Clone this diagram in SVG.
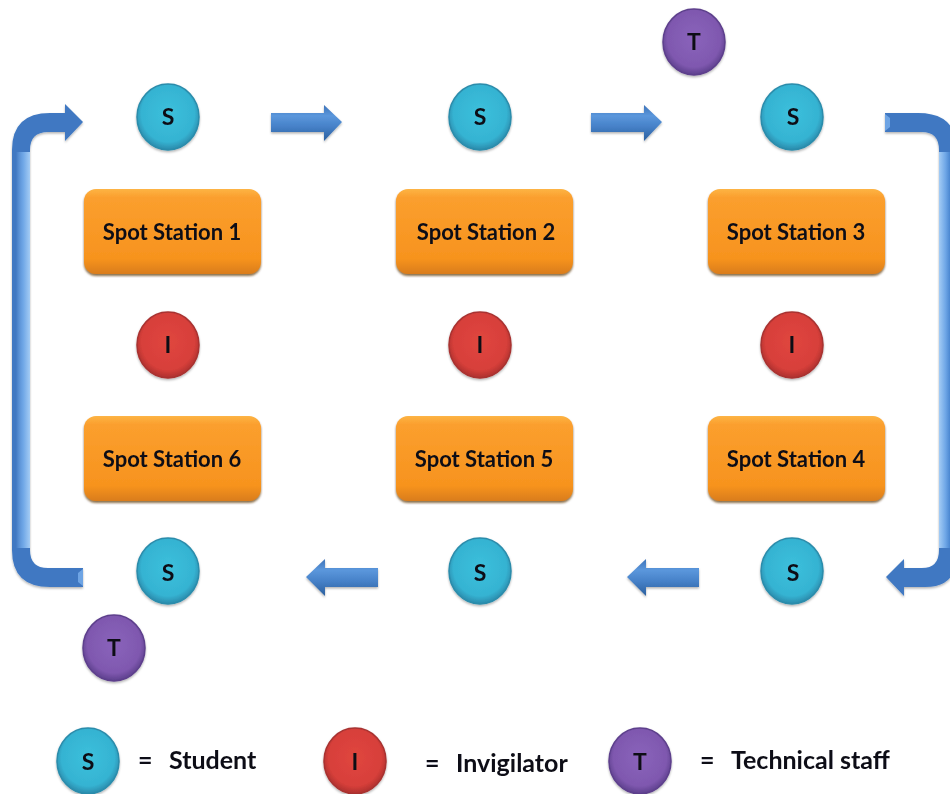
<svg xmlns="http://www.w3.org/2000/svg" width="950" height="794" viewBox="0 0 950 794">
<style>
text{font-family:"Lato","Open Sans","Liberation Sans",sans-serif;font-weight:700;fill:#101018;text-anchor:middle;filter:url(#soft)}
.lbl{font-size:22px}
.let{font-size:23px}
.leg{font-size:25px;text-anchor:start}
.s{fill:url(#gs);stroke:#2b8cab;stroke-width:1.5;filter:url(#sh)}
.i{fill:url(#gi);stroke:#a83230;stroke-width:1.5;filter:url(#sh)}
.t{fill:url(#gt);stroke:#5d3f8c;stroke-width:1.5;filter:url(#sh)}
.box{fill:url(#go);filter:url(#sh2)}
.ar{fill:url(#gh);filter:url(#sh)}
.bent{fill:#3f78c2;filter:url(#sh)}
.hi{fill:url(#gv)}
.hi2{fill:url(#gv2)}
.end{fill:#6ea4e4}
</style>
<defs>
<radialGradient id="gs" cx="50%" cy="45%" r="55%"><stop offset="0" stop-color="#3cc0dc"/><stop offset=".78" stop-color="#35b3d2"/><stop offset="1" stop-color="#2a89aa"/></radialGradient>
<radialGradient id="gi" cx="50%" cy="45%" r="55%"><stop offset="0" stop-color="#e0463f"/><stop offset=".78" stop-color="#d73f3a"/><stop offset="1" stop-color="#ac302e"/></radialGradient>
<radialGradient id="gt" cx="50%" cy="45%" r="55%"><stop offset="0" stop-color="#8a63bb"/><stop offset=".78" stop-color="#7f58af"/><stop offset="1" stop-color="#5c3f8c"/></radialGradient>
<linearGradient id="go" x1="0" y1="0" x2="0" y2="1"><stop offset="0" stop-color="#fdb445"/><stop offset=".1" stop-color="#fb9f2e"/><stop offset=".82" stop-color="#f7931e"/><stop offset="1" stop-color="#d97c1a"/></linearGradient>
<linearGradient id="gh" x1="0" y1="0" x2="0" y2="1"><stop offset="0" stop-color="#3c72b8"/><stop offset=".3" stop-color="#5b97dc"/><stop offset=".6" stop-color="#4681c8"/><stop offset="1" stop-color="#2b5f9e"/></linearGradient>
<linearGradient id="gv" x1="0" y1="0" x2="1" y2="0"><stop offset="0" stop-color="#7fb4ee" stop-opacity="0"/><stop offset=".5" stop-color="#6ea6e6"/><stop offset="1" stop-color="#a4ccf5"/></linearGradient>
<linearGradient id="gv2" x1="0" y1="0" x2="1" y2="0"><stop offset="0" stop-color="#a4ccf5"/><stop offset=".6" stop-color="#6ea6e6"/><stop offset="1" stop-color="#4a86d0"/></linearGradient>
<filter id="sh" x="-20%" y="-20%" width="140%" height="140%"><feDropShadow dx="0" dy="1.5" stdDeviation="1.2" flood-color="#000" flood-opacity=".3"/></filter>
<filter id="sh2" x="-10%" y="-10%" width="120%" height="125%"><feDropShadow dx="0" dy="2" stdDeviation="1.2" flood-color="#5a3000" flood-opacity=".7"/></filter>
<filter id="soft" x="-5%" y="-10%" width="110%" height="120%"><feGaussianBlur stdDeviation="0.35"/></filter>
</defs>

<g id="connectors">
<path id="arrow-1" class="ar" d="M271 113H324V105L342 122L324 141V132H271Z"/>
<path id="arrow-2" class="ar" d="M591 113H644V105L662 122L644 141V132H591Z"/>
<path id="arrow-3" class="ar" d="M378 568H325V559L306 577L325 596V587H378Z"/>
<path id="arrow-4" class="ar" d="M699 568H646V559L627 577L646 596V587H699Z"/>
<g id="arrow-left">
<path class="bent" d="M83 568H48Q30 568 30 550V150Q30 132 48 132H65V141L83 122L65 104V113H50Q12 113 12 150V550Q12 587 50 587H83Z"/>
<rect class="hi" x="16" y="152" width="14" height="396"/>
<path class="end" d="M83 569V586L78 582V573Z"/>
</g>
<g id="arrow-right">
<path class="bent" d="M885 113H918Q957 113 957 150V555Q957 587 925 587H904V596L886 577L904 559V568H922Q939 568 939 550V150Q939 132 922 132H885Z"/>
<rect class="hi2" x="939" y="152" width="11" height="396"/>
<path class="end" d="M885 114V131L890 127V118Z"/>
</g>
</g>

<g id="station-1"><rect class="box" x="84" y="189" width="177" height="85" rx="12"/><text class="lbl" x="172" y="240">Spot Station 1</text></g>
<g id="station-2"><rect class="box" x="396" y="189" width="177" height="85" rx="12"/><text class="lbl" x="486" y="240">Spot Station 2</text></g>
<g id="station-3"><rect class="box" x="708" y="189" width="177" height="85" rx="12"/><text class="lbl" x="796" y="240">Spot Station 3</text></g>
<g id="station-6"><rect class="box" x="84" y="416" width="177" height="85" rx="12"/><text class="lbl" x="172" y="467">Spot Station 6</text></g>
<g id="station-5"><rect class="box" x="396" y="416" width="177" height="85" rx="12"/><text class="lbl" x="484" y="467">Spot Station 5</text></g>
<g id="station-4"><rect class="box" x="708" y="416" width="177" height="85" rx="12"/><text class="lbl" x="796" y="467">Spot Station 4</text></g>

<g id="s1"><ellipse class="s" cx="168" cy="117" rx="31" ry="33"/><text class="let" x="168" y="125">S</text></g>
<g id="s2"><ellipse class="s" cx="480" cy="117" rx="31" ry="33"/><text class="let" x="480" y="125">S</text></g>
<g id="s3"><ellipse class="s" cx="792" cy="117" rx="31" ry="33"/><text class="let" x="793" y="125">S</text></g>
<g id="s4"><ellipse class="s" cx="792" cy="571" rx="31" ry="33"/><text class="let" x="793" y="581">S</text></g>
<g id="s5"><ellipse class="s" cx="480" cy="571" rx="31" ry="33"/><text class="let" x="480" y="581">S</text></g>
<g id="s6"><ellipse class="s" cx="168" cy="571" rx="31" ry="33"/><text class="let" x="168" y="581">S</text></g>
<g id="i1"><ellipse class="i" cx="168" cy="345" rx="31" ry="33"/><text class="let" x="168" y="353">I</text></g>
<g id="i2"><ellipse class="i" cx="480" cy="345" rx="31" ry="33"/><text class="let" x="480" y="353">I</text></g>
<g id="i3"><ellipse class="i" cx="792" cy="345" rx="31" ry="33"/><text class="let" x="792" y="353">I</text></g>
<g id="t1"><ellipse class="t" cx="694" cy="42" rx="31" ry="33"/><text class="let" x="694" y="50">T</text></g>
<g id="t2"><ellipse class="t" cx="114" cy="648" rx="31" ry="33"/><text class="let" x="114" y="656">T</text></g>

<g id="legend-student"><ellipse class="s" cx="88" cy="761" rx="31" ry="33"/><text class="let" x="88" y="770">S</text><text class="leg" x="138" y="769">=</text><text class="leg" x="169" y="769">Student</text></g>
<g id="legend-invigilator"><ellipse class="i" cx="355" cy="761" rx="31" ry="33"/><text class="let" x="355" y="770">I</text><text class="leg" x="425" y="772">=</text><text class="leg" x="456" y="772">Invigilator</text></g>
<g id="legend-technical"><ellipse class="t" cx="640" cy="761" rx="31" ry="33"/><text class="let" x="640" y="770">T</text><text class="leg" x="700" y="769">=</text><text class="leg" x="731" y="769">Technical staff</text></g>
</svg>
